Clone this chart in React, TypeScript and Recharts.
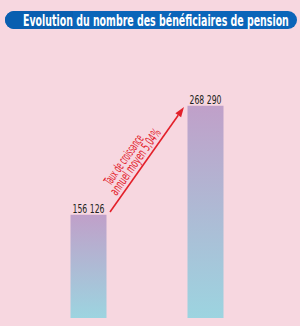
import React, { useLayoutEffect, useRef, useState } from 'react';
import { BarChart, Bar, XAxis, YAxis, LabelList, ReferenceLine } from 'recharts';

// Nombre de bénéficiaires de pension, début et fin de période
const periods = ['Début de période', 'Fin de période'];
const beneficiaries = [156126, 268290];

const TITLE = 'Evolution du nombre des bénéficiaires de pension';
const GROWTH_LINES = ['Taux de croissance', 'annuel moyen 5,04%'];

// arrow heights in data units
const ARROW_FROM_Y = 159000;
const ARROW_TO_Y = 267000;

const BAR_SIZE = 36;
const FONT = '"Liberation Sans Narrow", "DejaVu Sans Condensed", "Roboto Condensed", sans-serif';
const RED = '#e3202a';

const data = periods.map((p, i) => ({ period: p, value: beneficiaries[i] }));

const formatValue = (v: number) => String(v).replace(/\B(?=(\d{3})+(?!\d))/g, ' ');

// text squeezed horizontally to a given width (condensed look)
const FitText = ({ width, children, ...rest }: any) => {
  const ref = useRef<SVGTextElement>(null);
  const [sx, setSx] = useState(1);
  useLayoutEffect(() => {
    if (ref.current) {
      const w = ref.current.getComputedTextLength();
      if (w > 0) setSx(width / w);
    }
  }, [width, children]);
  const { x = 0, y = 0, textAnchor, ...other } = rest;
  return (
    <g transform={`translate(${x},${y}) scale(${sx},1)`}>
      <text ref={ref} x={0} y={0} textAnchor={textAnchor} {...other}>
        {children}
      </text>
    </g>
  );
};

const ValueLabel = (props: any) => {
  const { x, y, width, value } = props;
  return (
    <FitText
      x={x + width / 2}
      y={y - 2}
      width={32}
      textAnchor="middle"
      fontFamily={FONT}
      fontSize={13}
      fill="#231f20"
    >
      {formatValue(value)}
    </FitText>
  );
};

const GrowthArrow = (props: any) => {
  const { y1, y2 } = props;
  // start right of the first bar, end left of the second one
  const x1 = props.x1 + BAR_SIZE / 2 + 4;
  const x2 = props.x2 - BAR_SIZE / 2 - 3;
  const dx = x2 - x1;
  const dy = y2 - y1;
  const len = Math.sqrt(dx * dx + dy * dy);
  const ux = dx / len;
  const uy = dy / len;
  // perpendicular pointing up-left
  const nx = uy;
  const ny = -ux;
  const head = 10;
  const half = 3.5;
  const bx = x2 - ux * head;
  const by = y2 - uy * head;
  const angle = (Math.atan2(dy, dx) * 180) / Math.PI;
  const cx = (x1 + x2) / 2 - ux * 10.5 + nx * 14;
  const cy = (y1 + y2) / 2 - uy * 10.5 + ny * 14;
  return (
    <g>
      <line x1={x1} y1={y1} x2={bx} y2={by} stroke={RED} strokeWidth={1.6} />
      <polygon
        points={`${x2},${y2} ${bx + nx * half},${by + ny * half} ${bx - nx * half},${by - ny * half}`}
        fill={RED}
      />
      <g transform={`translate(${cx},${cy}) rotate(${angle})`}>
        <FitText
          x={-3}
          y={-5.5}
          width={58}
          textAnchor="middle"
          dominantBaseline="central"
          fontFamily={FONT}
          fontSize={13}
          fill={RED}
        >
          {GROWTH_LINES[0]}
        </FitText>
        <FitText
          x={2}
          y={6}
          width={78}
          textAnchor="middle"
          dominantBaseline="central"
          fontFamily={FONT}
          fontSize={13}
          fill={RED}
        >
          {GROWTH_LINES[1]}
        </FitText>
      </g>
    </g>
  );
};

export default function App() {
  return (
    <div
      style={{
        position: 'absolute',
        left: 0,
        top: 0,
        width: 300,
        height: 326,
        background: '#f7d7e0',
        overflow: 'hidden',
      }}
    >
      <svg width={300} height={40} style={{ position: 'absolute', left: 0, top: 0 }}>
        <rect x={5} y={11} width={292} height={18} rx={9} fill="#0b65b9" />
        <path d="M 14 11 H 73 V 29 H 14 A 9 9 0 0 1 14 11 Z" fill="#0a5fb0" />
        <FitText
          x={23}
          y={25.8}
          width={266}
          fontFamily={FONT}
          fontSize={16}
          fontWeight="bold"
          fill="#ffffff"
        >
          {TITLE}
        </FitText>
      </svg>
      <BarChart
        width={300}
        height={326}
        data={data}
        margin={{ top: 75, right: 36.5, bottom: 8, left: 29.5 }}
        style={{ position: 'absolute', left: 0, top: 0 }}
      >
        <defs>
          <linearGradient id="barFill" x1="0" y1="0" x2="0" y2="1">
            <stop offset="0%" stopColor="#c0a0c9" />
            <stop offset="100%" stopColor="#9cd4e0" />
          </linearGradient>
        </defs>
        <XAxis dataKey="period" hide />
        <YAxis domain={[50000, 300000]} allowDataOverflow hide />
        <Bar dataKey="value" fill="url(#barFill)" barSize={BAR_SIZE} isAnimationActive={false}>
          <LabelList dataKey="value" content={<ValueLabel />} />
        </Bar>
        <ReferenceLine
          segment={[
            { x: periods[0], y: ARROW_FROM_Y },
            { x: periods[1], y: ARROW_TO_Y },
          ]}
          ifOverflow="visible"
          shape={<GrowthArrow />}
        />
      </BarChart>
    </div>
  );
}
